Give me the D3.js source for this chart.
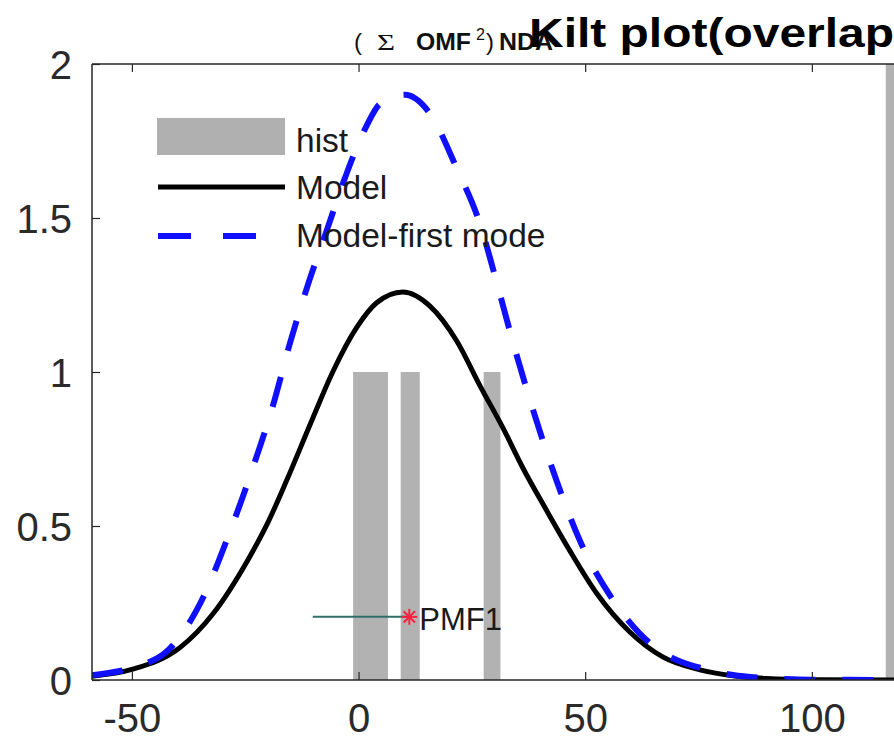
<!DOCTYPE html>
<html>
<head>
<meta charset="utf-8">
<script src="https://cdn.jsdelivr.net/npm/d3@7"></script>
<style>
  html, body { margin: 0; padding: 0; background: #ffffff; overflow: hidden; }
  svg { display: block; font-family: "Liberation Sans", Arial, Helvetica, sans-serif; }
</style>
</head>
<body>
<svg id="chart" width="894" height="748"></svg>
<script>
// ---------- data ----------
const xTicks = [-50, 0, 50, 100];
const yTicks = [0, 0.5, 1, 1.5, 2];

// histogram bins
const histX0 = [-1.2, 9.3, 27.6, 116.3];
const histX1 = [6.5, 13.5, 31.3, 121.0];
const histValues = [1, 1, 1, 2.2];

// Model (black solid)
const modelX = [-58.8, -49.8, -39.4, -32.1, -24.6, -20.2, -15.8, -10.1, -5.7, -0.4, 4.0, 9.8, 15.7, 21.7, 26.8, 31.8, 36.2, 41.5, 46.6, 52.6, 59.9, 67.1, 75.3, 82.6, 90.0, 100.0, 120.0];
const modelY = [0.012, 0.035, 0.105, 0.215, 0.385, 0.505, 0.65, 0.85, 1.00, 1.145, 1.225, 1.26, 1.215, 1.10, 0.955, 0.82, 0.69, 0.55, 0.42, 0.28, 0.155, 0.075, 0.033, 0.014, 0.005, 0.001, 0.0];

// Model-first mode (blue dashed)
const firstX = [-58.8, -44.5, -35.6, -27.9, -23.3, -18.9, -15.2, -10.8, -7.0, -3.5, 1.8, 4.7, 10.2, 15.7, 21.7, 26.8, 30.5, 34.0, 37.8, 41.5, 45.1, 48.9, 54.8, 62.1, 69.4, 75.3, 82.6, 90.0, 100.0, 120.0];
const firstY = [0.015, 0.07, 0.23, 0.50, 0.69, 0.89, 1.09, 1.30, 1.46, 1.61, 1.80, 1.87, 1.90, 1.84, 1.66, 1.48, 1.29, 1.10, 0.91, 0.74, 0.59, 0.45, 0.29, 0.15, 0.07, 0.04, 0.016, 0.006, 0.001, 0.0];

// PMF1 marker
const pmfLabel = "PMF1";
const pmfX = 11.2, pmfY = 0.205, pmfLineStart = -10.1;

const legendLabels = ["hist", "Model", "Model-first mode"];
const titleText = "Kilt plot(overlap)";
const subtitleParts = ["(", "Σ", "OMF", "2", ")", "NDA"];

// ---------- layout ----------
const svg = d3.select("#chart");
const mLeft = 92, mTop = 64, mBottom = 680;
const x = d3.scaleLinear().domain([-58.8, 120]).range([mLeft, mLeft + 178.8 * 4.533]);
const y = d3.scaleLinear().domain([0, 2]).range([mBottom, mTop]);
const mRight = x.range()[1];
const axisColor = "#262626";

svg.append("rect").attr("width", 894).attr("height", 748).attr("fill", "#ffffff");

svg.append("defs").append("clipPath").attr("id", "plotclip")
  .append("rect").attr("x", mLeft).attr("y", mTop).attr("width", mRight - mLeft).attr("height", mBottom - mTop);

const plot = svg.append("g").attr("clip-path", "url(#plotclip)");

// histogram bars
const hist = histValues.map((v, i) => ({ x0: histX0[i], x1: histX1[i], v }));
plot.selectAll("rect.bar").data(hist).enter().append("rect")
  .attr("class", "bar")
  .attr("x", d => x(d.x0))
  .attr("width", d => x(d.x1) - x(d.x0))
  .attr("y", d => y(d.v))
  .attr("height", d => y(0) - y(d.v))
  .attr("fill", "#b2b2b2");

// curves
const line = d3.line().x(d => x(d[0])).y(d => y(d[1])).curve(d3.curveMonotoneX);
plot.append("path").datum(modelX.map((v, i) => [v, modelY[i]]))
  .attr("d", line).attr("fill", "none").attr("stroke", "#000000").attr("stroke-width", 5);
plot.append("path").datum(firstX.map((v, i) => [v, firstY[i]]))
  .attr("d", line).attr("fill", "none").attr("stroke", "#1010ff").attr("stroke-width", 6)
  .attr("stroke-dasharray", "31,27");

// PMF1 marker line + asterisk + label
plot.append("line")
  .attr("x1", x(pmfLineStart)).attr("x2", x(pmfX))
  .attr("y1", y(pmfY)).attr("y2", y(pmfY))
  .attr("stroke", "#2f6f6a").attr("stroke-width", 2);
const star = plot.append("g").attr("transform", `translate(${x(pmfX)},${y(pmfY)})`);
[0, 45, 90, 135].forEach(a => {
  star.append("line").attr("x1", -8).attr("x2", 8).attr("y1", 0).attr("y2", 0)
    .attr("transform", `rotate(${a})`).attr("stroke", "#ff2040").attr("stroke-width", 2);
});
plot.append("text").attr("x", x(pmfX) + 10).attr("y", y(pmfY) + 13)
  .attr("font-size", 31).attr("fill", "#1a1a1a").text(pmfLabel);

// axes box
const ax = svg.append("g");
ax.append("line").attr("x1", mLeft).attr("x2", mRight).attr("y1", mBottom).attr("y2", mBottom).attr("stroke", axisColor).attr("stroke-width", 1.5);
ax.append("line").attr("x1", mLeft).attr("x2", mRight).attr("y1", mTop).attr("y2", mTop).attr("stroke", axisColor).attr("stroke-width", 1.5);
ax.append("line").attr("x1", mLeft).attr("x2", mLeft).attr("y1", mTop).attr("y2", mBottom).attr("stroke", axisColor).attr("stroke-width", 1.5);

// bottom axis (ticks inward) + top ticks
const xAxis = d3.axisBottom(x).tickValues(xTicks).tickSize(-8).tickPadding(24).tickFormat(d => String(d));
const gx = svg.append("g").attr("transform", `translate(0,${mBottom})`).call(xAxis);
gx.select(".domain").remove();
gx.selectAll("line").attr("stroke", axisColor).attr("stroke-width", 1.2);
gx.selectAll("text").attr("font-size", 40).attr("fill", "#2a2a2a")
  .attr("font-family", "Liberation Sans, Arial, sans-serif").attr("dy", "0.71em");

const xTop = d3.axisTop(x).tickValues(xTicks).tickSize(-8).tickFormat("");
const gxt = svg.append("g").attr("transform", `translate(0,${mTop})`).call(xTop);
gxt.select(".domain").remove();
gxt.selectAll("line").attr("stroke", axisColor).attr("stroke-width", 1.2);

const yAxis = d3.axisLeft(y).tickValues(yTicks).tickSize(-8).tickPadding(20).tickFormat(d => String(d));
const gy = svg.append("g").attr("transform", `translate(${mLeft},0)`).call(yAxis);
gy.select(".domain").remove();
gy.selectAll("line").attr("stroke", axisColor).attr("stroke-width", 1.2);
gy.selectAll("text").attr("font-size", 40).attr("fill", "#2a2a2a")
  .attr("font-family", "Liberation Sans, Arial, sans-serif").attr("dy", "0.36em");

// legend
const lg = svg.append("g");
lg.append("rect").attr("x", 157).attr("y", 118).attr("width", 128).attr("height", 37).attr("fill", "#b0b0b0");
lg.append("line").attr("x1", 158).attr("x2", 285).attr("y1", 187).attr("y2", 187).attr("stroke", "#000").attr("stroke-width", 5);
lg.append("line").attr("x1", 158).attr("x2", 285).attr("y1", 236).attr("y2", 236).attr("stroke", "#1010ff").attr("stroke-width", 6).attr("stroke-dasharray", "33,32");
const legendBase = [152, 199, 247];
lg.selectAll("text").data(legendLabels).enter().append("text")
  .attr("x", 296).attr("y", (d, i) => legendBase[i])
  .attr("font-size", 33.5).attr("fill", "#1a1a1a").text(d => d);

// subtitle pieces (placed one by one)
const subX = [354, 377, 416, 476, 486, 499];
const subLen = [8, 18, 55, 9, 8, 54];
const subBold = [false, false, true, false, false, true];
const subSize = [24, 24, 24, 16, 24, 24];
const subDy = [0, 0, 0, -10, 0, 0];
const subG = svg.append("g");
subtitleParts.forEach((t, i) => {
  subG.append("text")
    .attr("x", subX[i]).attr("y", 50 + subDy[i])
    .attr("font-size", subSize[i])
    .attr("font-weight", subBold[i] ? "bold" : "normal")
    .attr("font-family", t === "Σ" ? "Liberation Serif, Times New Roman, serif" : null)
    .attr("fill", "#111")
    .attr("textLength", subLen[i]).attr("lengthAdjust", "spacingAndGlyphs")
    .text(t);
});

svg.append("text").attr("x", 529).attr("y", 47)
  .attr("font-size", 40).attr("font-weight", "bold").attr("fill", "#000")
  .attr("textLength", 381).attr("lengthAdjust", "spacingAndGlyphs")
  .text(titleText);
</script>
</body>
</html>
